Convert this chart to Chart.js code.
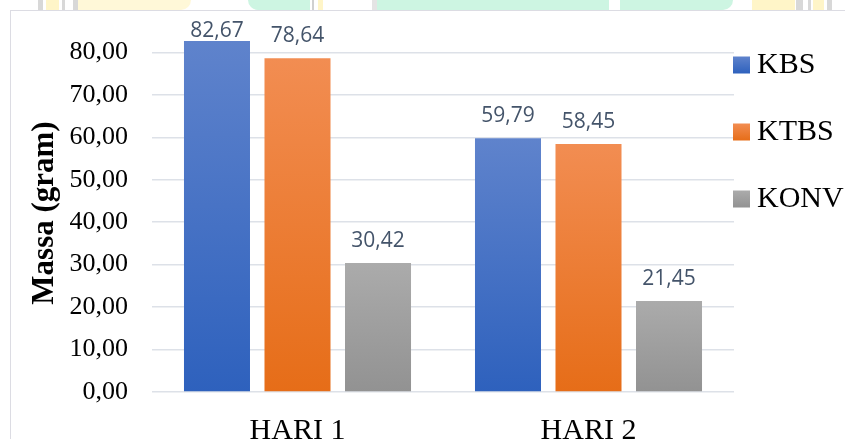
<!DOCTYPE html>
<html>
<head>
<meta charset="utf-8">
<script src="https://cdn.jsdelivr.net/npm/chart.js@4.4.0/dist/chart.umd.min.js"></script>
<style>
  body { margin: 0; background: #fff; overflow: hidden; width: 845px; height: 439px; position: relative; }
  #bingkai { position: absolute; left: 10px; top: 10px; width: 900px; height: 500px; border: 1px solid #dcdce3; }
  .pita { position: absolute; top: 0; height: 10px; }
  #wadah { position: absolute; left: 0; top: 0; width: 845px; height: 450px; }
</style>
</head>
<body>
<!-- sisa watermark di atas bingkai -->
<div class="pita" style="left:38px;width:5px;background:#d8d8d8"></div>
<div class="pita" style="left:46px;width:13px;background:#fff5c8"></div>
<div class="pita" style="left:62px;width:3px;background:#d8d8d8"></div>
<div class="pita" style="left:73px;width:5px;background:#d8d8d8"></div>
<div class="pita" style="left:78px;width:113px;background:#fff8d8;border-radius:0 0 30px 0"></div>
<div class="pita" style="left:248px;width:62px;background:#cdf5e2;border-radius:0 0 0 40px"></div>
<div class="pita" style="left:312px;width:2px;background:#d0d0d0"></div>
<div class="pita" style="left:318px;width:5px;background:#fff5c8"></div>
<div class="pita" style="left:372px;width:5px;background:#e4e4e4"></div>
<div class="pita" style="left:377px;width:232px;background:#cdf5e2"></div>
<div class="pita" style="left:620px;width:113px;background:#cdf5e2;border-radius:0 0 20px 0"></div>
<div class="pita" style="left:752px;width:43px;background:#fff5c8"></div>
<div class="pita" style="left:796px;width:7px;background:#d8d8d8"></div>
<div class="pita" style="left:808px;width:3px;background:#d8d8d8"></div>
<div class="pita" style="left:813px;width:11px;background:#fff5c8"></div>
<div class="pita" style="left:827px;width:5px;background:#d8d8d8"></div>
<div id="bingkai"></div>
<div id="wadah"><canvas id="graph" width="845" height="450"></canvas></div>

<script>
var kategori = ['HARI 1', 'HARI 2'];
var namaSeri = ['KBS', 'KTBS', 'KONV'];
var nilaiKBS = [82.67, 59.79];
var nilaiKTBS = [78.64, 58.45];
var nilaiKONV = [30.42, 21.45];
var tickY = [0, 10, 20, 30, 40, 50, 60, 70, 80];
var judulY = 'Massa (gram)';

var warnaAtas = ['#5f83cc', '#f28d52', '#ababab'];
var warnaBawah = ['#2e61bd', '#e66d18', '#929292'];

function formatKoma(v) {
    return v.toFixed(2).replace('.', ',');
}

function gradien(i) {
    return function(c) {
        var chart = c.chart;
        if (!chart.chartArea || c.type !== 'data') {
            return warnaBawah[i];
        }
        var y = chart.scales.y;
        var atas = y.getPixelForValue(c.raw);
        var bawah = y.getPixelForValue(0);
        var g = chart.ctx.createLinearGradient(0, atas, 0, bawah);
        g.addColorStop(0, warnaAtas[i]);
        g.addColorStop(1, warnaBawah[i]);
        return g;
    };
}

// label nilai di atas batang
var labelNilai = {
    id: 'labelNilai',
    afterDatasetsDraw: function(chart) {
        var ctx = chart.ctx;
        var ca = chart.chartArea;
        ctx.save();
        ctx.font = '21px "Open Sans"';
        ctx.fillStyle = '#44546a';
        ctx.textAlign = 'center';
        ctx.textBaseline = 'alphabetic';
        chart.data.datasets.forEach(function(ds, i) {
            chart.getDatasetMeta(i).data.forEach(function(bar, j) {
                var y = Math.max(bar.y - 16, ca.top + 27);
                ctx.fillText(formatKoma(ds.data[j]), bar.x, y);
            });
        });
        ctx.restore();
    }
};

// judul sumbu y, agak turun dari tengah seperti aslinya
var judulSumbu = {
    id: 'judulSumbu',
    afterDraw: function(chart) {
        var ctx = chart.ctx;
        var ca = chart.chartArea;
        ctx.save();
        ctx.translate(chart.scales.y.left + 18.6, (ca.top + ca.bottom) / 2 + 12);
        ctx.rotate(-Math.PI / 2);
        ctx.font = 'bold 31px "Liberation Serif"';
        ctx.fillStyle = '#000';
        ctx.textAlign = 'center';
        ctx.textBaseline = 'middle';
        ctx.fillText(judulY, 0, 0);
        ctx.restore();
    }
};

// legenda di kanan
var legendaKanan = {
    id: 'legendaKanan',
    afterDraw: function(chart) {
        var ctx = chart.ctx;
        var ca = chart.chartArea;
        ctx.save();
        ctx.font = '30px "Liberation Serif"';
        ctx.textBaseline = 'middle';
        ctx.textAlign = 'left';
        chart.data.datasets.forEach(function(ds, i) {
            var y = ca.top + 55 + i * 67;
            var g = ctx.createLinearGradient(0, y - 8.5, 0, y + 8.5);
            g.addColorStop(0, warnaAtas[i]);
            g.addColorStop(1, warnaBawah[i]);
            ctx.fillStyle = g;
            ctx.fillRect(ca.right - 1, y - 8.5, 17, 17);
            ctx.fillStyle = '#000';
            ctx.fillText(ds.label, ca.right + 23, y);
        });
        ctx.restore();
    }
};

var seri = [nilaiKBS, nilaiKTBS, nilaiKONV];

var myChart = new Chart(document.getElementById('graph').getContext('2d'), {
    type: 'bar',
    data: {
        labels: kategori,
        datasets: seri.map(function(d, i) {
            return {
                label: namaSeri[i],
                data: d,
                backgroundColor: gradien(i),
                borderWidth: 0,
                barPercentage: 0.82,
                categoryPercentage: 0.83
            };
        })
    },
    options: {
        responsive: false,
        animation: false,
        layout: { padding: { top: 10, left: 26, right: 111, bottom: 0 } },
        plugins: {
            legend: { display: false },
            tooltip: { enabled: false }
        },
        scales: {
            x: {
                grid: { display: false, drawTicks: false },
                border: { display: false },
                ticks: {
                    font: { family: '"Liberation Serif"', size: 30 },
                    color: '#000',
                    padding: 21
                },
                afterFit: function(s) { s.height = 58; }
            },
            y: {
                min: 0,
                max: 90,
                afterBuildTicks: function(s) {
                    s.ticks = tickY.map(function(v) { return { value: v }; });
                },
                afterFit: function(s) {
                    s.width = 126;
                    s.paddingTop = 0;
                    s.paddingBottom = 0;
                },
                grid: { color: '#dde1e8', lineWidth: 1.5, drawTicks: false },
                border: { display: false },
                ticks: {
                    font: { family: '"Liberation Serif"', size: 26 },
                    color: '#000',
                    padding: 24,
                    callback: function(v) { return formatKoma(v); }
                }
            }
        }
    },
    plugins: [labelNilai, judulSumbu, legendaKanan]
});
</script>
</body>
</html>
